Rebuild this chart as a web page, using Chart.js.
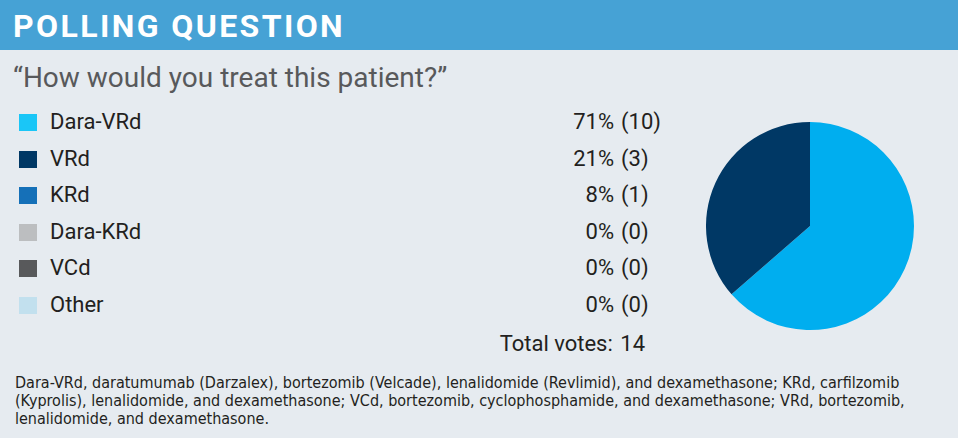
<!DOCTYPE html>
<html>
<head>
<meta charset="utf-8">
<script src="https://cdn.jsdelivr.net/npm/chart.js@4/dist/chart.umd.min.js"></script>
<style>
  html, body { margin: 0; padding: 0; }
  body { width: 958px; height: 438px; background: #e6ebf0; position: relative; overflow: hidden; font-family: Roboto, "Liberation Sans", sans-serif; }
  #header { position: absolute; left: 0; top: 0; width: 958px; height: 50px; background: #46a2d5; }
  #title { position: absolute; left: 13px; top: 8px; font-size: 32px; line-height: 36px; font-weight: bold; color: #fff; letter-spacing: 2.4px; }
  #question { position: absolute; left: 13px; top: 61px; font-size: 28px; line-height: 34px; color: #58595b; }
  #legend { position: absolute; left: 0; top: 104px; width: 700px; }
  .row { position: relative; height: 36.6px; }
  .sw { position: absolute; left: 19px; top: 10px; width: 18px; height: 17px; }
  .lbl { position: absolute; left: 50px; top: 0; line-height: 36.6px; font-size: 22px; color: #231f20; }
  .pct { position: absolute; right: 86px; top: 0; line-height: 36.6px; font-size: 22px; color: #231f20; text-align: right; }
  .cnt { position: absolute; left: 621px; top: 0; line-height: 36.6px; font-size: 22px; color: #231f20; }
  #total { position: absolute; right: 313px; top: 329px; line-height: 30px; font-size: 22px; color: #231f20; }
  #total span { margin-left: 2px; }
  #notes { position: absolute; left: 15px; top: 374px; font-family: "Liberation Sans Narrow", "DejaVu Sans Condensed", sans-serif; font-size: 16px; line-height: 18px; color: #231f20; }
  #pieBox { position: absolute; left: 706px; top: 122px; width: 208px; height: 208px; }
</style>
</head>
<body>
<div id="header"><div id="title">POLLING QUESTION</div></div>
<div id="question">“How would you treat this patient?”</div>
<div id="legend"></div>
<div id="total"></div>
<div id="notes">Dara-VRd, daratumumab (Darzalex), bortezomib (Velcade), lenalidomide (Revlimid), and dexamethasone; KRd, carfilzomib<br>(Kyprolis), lenalidomide, and dexamethasone; VCd, bortezomib, cyclophosphamide, and dexamethasone; VRd, bortezomib,<br>lenalidomide, and dexamethasone.</div>
<div id="pieBox"><canvas id="pie"></canvas></div>
<script>
const categories = ["Dara-VRd", "VRd", "KRd", "Dara-KRd", "VCd", "Other"];
const percents = [71, 21, 8, 0, 0, 0];
const votes = [10, 3, 1, 0, 0, 0];
// slice sizes as drawn in the pie
const pieShares = [63.6, 36.4, 0, 0, 0, 0];
const legendColors = ["#1ac6f7", "#003865", "#1570b8", "#bcbec0", "#58595b", "#c2e0ee"];
const pieColors = ["#00aeef", "#003865", "#1570b8", "#bcbec0", "#58595b", "#c2e0ee"];
const totalVotes = 14;

const legend = document.getElementById("legend");
categories.forEach((c, i) => {
  const row = document.createElement("div");
  row.className = "row";
  row.innerHTML =
    '<div class="sw" style="background:' + legendColors[i] + '"></div>' +
    '<div class="lbl">' + c + '</div>' +
    '<div class="pct">' + percents[i] + '%</div>' +
    '<div class="cnt">(' + votes[i] + ')</div>';
  legend.appendChild(row);
});
document.getElementById("total").innerHTML = "Total votes: <span>" + totalVotes + "</span>";

new Chart(document.getElementById("pie"), {
  type: "pie",
  data: {
    labels: categories,
    datasets: [{
      data: pieShares,
      backgroundColor: pieColors,
      borderWidth: 0,
    }],
  },
  options: {
    responsive: true,
    maintainAspectRatio: false,
    animation: false,
    layout: { padding: 0 },
    plugins: { legend: { display: false }, tooltip: { enabled: false } },
  },
});
</script>
</body>
</html>
